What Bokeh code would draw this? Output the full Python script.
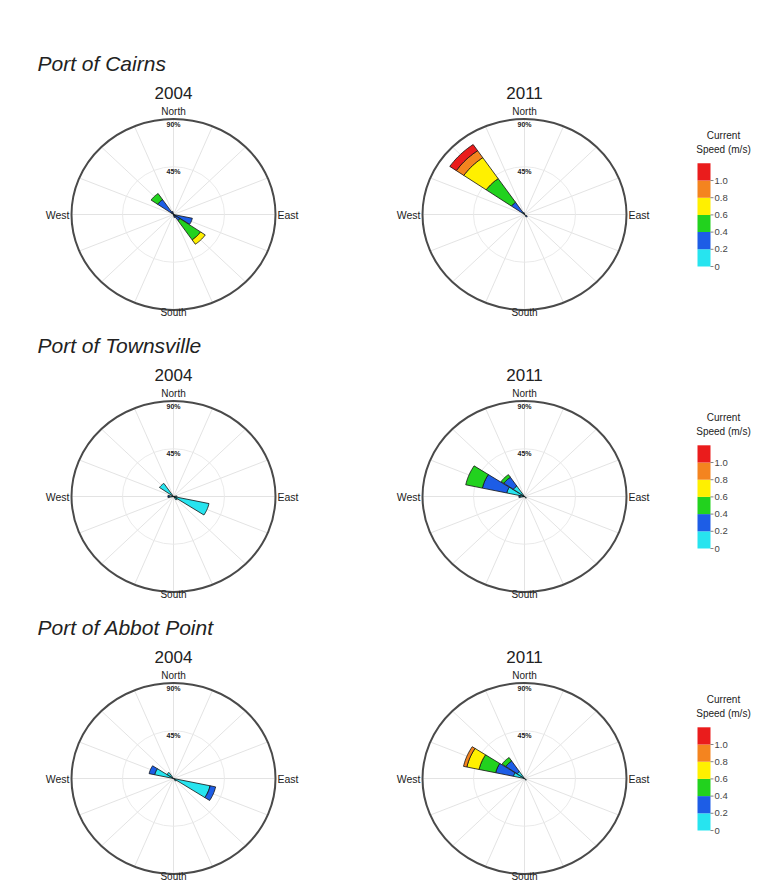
import math
from bokeh.plotting import figure
from bokeh.models import Range1d, ColumnDataSource
from bokeh.embed import file_html
from bokeh.resources import INLINE
from bokeh.core.properties import value

# ---------------- data ----------------
directions = ["N", "NNE", "NE", "ENE", "E", "ESE", "SE", "SSE",
              "S", "SSW", "SW", "WSW", "W", "WNW", "NW", "NNW"]
speed_edges = [0, 0.2, 0.4, 0.6, 0.8, 1.0, 1.2]
speed_labels = ["0", "0.2", "0.4", "0.6", "0.8", "1.0"]
bin_colors = ["#27e4ef", "#1d5de6", "#22d21e", "#fff000", "#f4841f", "#ea1c1c"]
ports = ["Port of Cairns", "Port of Townsville", "Port of Abbot Point"]
years = ["2004", "2011"]
radial_ticks = [45, 90]
compass = ["North", "East", "South", "West"]

# % of time per direction, per speed bin (0-0.2, 0.2-0.4, 0.4-0.6, 0.6-0.8, 0.8-1.0, >1.0)
cairns_2004 = {"NW": [2, 15, 7, 0, 0, 0], "ESE": [2, 15, 0, 0, 0, 0],
               "SE": [2, 5, 22, 5, 0, 0], "NNW": [1, 2, 0, 0, 0, 0], "SSE": [1, 2, 0, 0, 0, 0]}
cairns_2011 = {"NW": [3, 11, 27, 24, 8, 7], "SE": [2, 1, 0, 0, 0, 0], "NNW": [1, 1, 0, 0, 0, 0]}
townsville_2004 = {"ESE": [32, 0, 0, 0, 0, 0], "NW": [15, 0, 0, 0, 0, 0],
                   "W": [4, 1, 0, 0, 0, 0], "SE": [4, 0, 0, 0, 0, 0], "E": [3, 0, 0, 0, 0, 0]}
townsville_2011 = {"WNW": [16, 22, 15, 0, 0, 0], "NW": [12, 10, 3, 0, 0, 0],
                   "W": [4, 1, 0, 0, 0, 0], "SE": [2, 0, 0, 0, 0, 0]}
abbot_2004 = {"ESE": [33, 5, 0, 0, 0, 0], "WNW": [17, 5, 0, 0, 0, 0],
              "NW": [7, 0, 0, 0, 0, 0], "SE": [3, 0, 0, 0, 0, 0]}
abbot_2011 = {"WNW": [10, 16, 15, 11, 3, 0], "NW": [8, 12, 4, 0, 0, 0], "SE": [2, 0, 0, 0, 0, 0]}
roses = [[cairns_2004, cairns_2011], [townsville_2004, townsville_2011], [abbot_2004, abbot_2011]]

# ---------------- layout ----------------
W, H = 780, 882
col_cx = [173, 524]
row_cy = [214, 496, 778]
RX, RY, RMAX = 102, 95.5, 90
HALF = 10.5
FONT = value("Liberation Sans")

p = figure(width=W, height=H, output_backend="svg", toolbar_location=None,
           x_range=Range1d(0, W), y_range=Range1d(H, 0),
           min_border=0, background_fill_color="white", border_fill_color="white")
p.axis.visible = False
p.grid.visible = False
p.outline_line_color = None


def pt(cx, cy, r, b):
    a = math.radians(b)
    return cx + RX * r / RMAX * math.sin(a), cy - RY * r / RMAX * math.cos(a)


def sector(cx, cy, b, r0, r1, n=10):
    xs, ys = [], []
    for k in range(n + 1):
        x, y = pt(cx, cy, r1, b - HALF + 2 * HALF * k / n)
        xs.append(x); ys.append(y)
    if r0 <= 0:
        xs.append(cx); ys.append(cy)
    else:
        for k in range(n, -1, -1):
            x, y = pt(cx, cy, r0, b - HALF + 2 * HALF * k / n)
            xs.append(x); ys.append(y)
    return xs, ys


sx0, sy0, sx1, sy1 = [], [], [], []
pxs, pys, pcol = [], [], []
txt = {"x": [], "y": [], "t": [], "size": [], "align": [], "style": []}


def add_text(x, y, t, size, align="center", style="normal"):
    txt["x"].append(x); txt["y"].append(y); txt["t"].append(t)
    txt["size"].append(size); txt["align"].append(align); txt["style"].append(style)


for ri, cy in enumerate(row_cy):
    add_text(37, cy - 151, ports[ri], "21px", "left", "italic")
    for ci, cx in enumerate(col_cx):
        data = roses[ri][ci]
        # spokes
        for di, d in enumerate(directions):
            b = di * 22.5
            x, y = pt(cx, cy, RMAX, b)
            sx0.append(cx); sy0.append(cy); sx1.append(x); sy1.append(y)
        # wedges
        for d, vals in data.items():
            b = directions.index(d) * 22.5
            cum = 0
            for bi, v in enumerate(vals):
                if v <= 0:
                    continue
                xs, ys = sector(cx, cy, b, cum, cum + v)
                pxs.append(xs); pys.append(ys); pcol.append(bin_colors[bi])
                cum += v
        add_text(cx, cy - 122, years[ci], "17px")
        add_text(cx, cy - RY - 8, compass[0], "10px")
        add_text(cx + RX + 2, cy, compass[1], "10.5px", "left")
        add_text(cx, cy + RY + 2, compass[2], "10px")
        add_text(cx - RX - 2, cy, compass[3], "10.5px", "right")

p.segment(sx0, sy0, sx1, sy1, line_color="#e0e0e0", line_width=0.9)
for cy in row_cy:
    for cx in col_cx:
        p.ellipse(x=cx, y=cy, width=2 * RX * radial_ticks[0] / RMAX, height=2 * RY * radial_ticks[0] / RMAX,
                  fill_color=None, line_color="#e8e8e8", line_width=0.9)
p.patches(xs="xs", ys="ys", source=ColumnDataSource(dict(xs=pxs, ys=pys, c=pcol)),
          fill_color="c", line_color="#111111", line_width=0.8)
for cy in row_cy:
    for cx in col_cx:
        p.ellipse(x=cx, y=cy, width=2 * RX, height=2 * RY, fill_color=None,
                  line_color="#4a4a4a", line_width=2)

# radial labels
rl = {"x": [], "y": [], "t": []}
for cy in row_cy:
    for cx in col_cx:
        for rt in radial_ticks:
            rl["x"].append(cx); rl["y"].append(cy - RY * rt / RMAX + 5); rl["t"].append(f"{rt}%")
p.text(x="x", y="y", text="t", source=ColumnDataSource(rl), text_font=FONT,
       text_font_size="7px", text_font_style="bold", text_align="center",
       text_baseline="middle", text_color="#222222")

# colorbars
BAR_L, BAR_R, BAND = 697, 710, 17.2
qb, qt, qc = [], [], []
cl = {"x": [], "y": [], "t": []}
tx0, tx1, ty = [], [], []
for cy in row_cy:
    base = cy + 52

    def sy(s):
        return base - s / 0.2 * BAND
    for i in range(len(bin_colors)):
        qb.append(sy(speed_edges[i])); qt.append(sy(speed_edges[i + 1])); qc.append(bin_colors[i])
    for i, lab in enumerate(speed_labels):
        cl["x"].append(BAR_R + 4); cl["y"].append(sy(speed_edges[i])); cl["t"].append(lab)
        tx0.append(BAR_R); tx1.append(BAR_R + 3); ty.append(sy(speed_edges[i]))
    add_text(723, cy - 79, "Current", "10px")
    add_text(723, cy - 65, "Speed (m/s)", "10px")

p.quad(left=BAR_L, right=BAR_R, bottom=qb, top=qt, fill_color=qc, line_color=None)
p.segment(tx0, ty, tx1, ty, line_color="#666666", line_width=0.8)
p.text(x="x", y="y", text="t", source=ColumnDataSource(cl), text_font=FONT,
       text_font_size="9.5px", text_align="left", text_baseline="middle", text_color="#444444")

p.text(x="x", y="y", text="t", source=ColumnDataSource(txt), text_font=FONT,
       text_font_size="size", text_align="align", text_font_style="style",
       text_baseline="middle", text_color="#222222")

open("out.html", "w").write(file_html(p, INLINE))
